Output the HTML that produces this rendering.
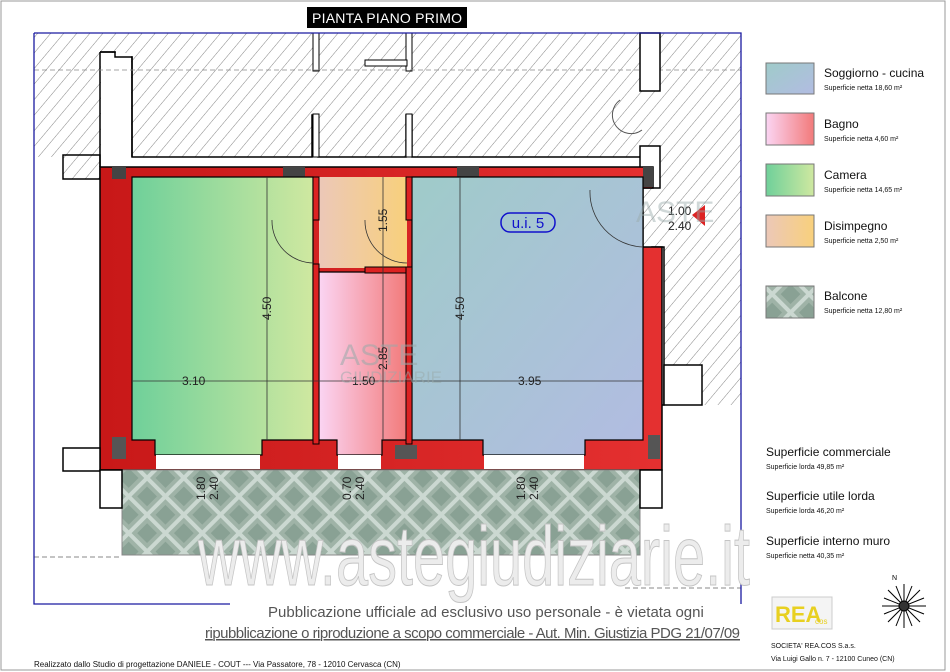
<!DOCTYPE html>
<html><head><meta charset="utf-8"><style>
html,body{margin:0;padding:0;background:#fff;width:950px;height:672px;overflow:hidden}
svg{display:block}
.t{font-family:"Liberation Sans",sans-serif}
</style></head><body>
<svg width="950" height="672" viewBox="0 0 950 672" xmlns="http://www.w3.org/2000/svg">
<defs>
<pattern id="h" width="10" height="10" patternUnits="userSpaceOnUse" patternTransform="rotate(40)">
<rect width="10" height="10" fill="#fff"/><line x1="0" y1="0" x2="0" y2="10" stroke="#666" stroke-width="0.8"/></pattern>
<pattern id="d" width="26" height="26" patternUnits="userSpaceOnUse" patternTransform="rotate(45)">
<rect width="26" height="26" fill="#cbd8d1"/><rect x="2" y="2" width="22" height="22" fill="#9fb3a7"/><rect x="6" y="6" width="14" height="14" fill="#89a194"/></pattern>
<linearGradient id="gc" x1="0" x2="1"><stop offset="0" stop-color="#6fd09a"/><stop offset="1" stop-color="#cfe8a0"/></linearGradient>
<linearGradient id="gb" x1="0" x2="1"><stop offset="0" stop-color="#fbd5f3"/><stop offset="1" stop-color="#f27a7a"/></linearGradient>
<linearGradient id="gd" x1="0" x2="1"><stop offset="0" stop-color="#ecc8b8"/><stop offset="1" stop-color="#f8d07c"/></linearGradient>
<linearGradient id="gs" x1="0" y1="0" x2="1" y2="1"><stop offset="0" stop-color="#9fcbc9"/><stop offset="1" stop-color="#b2bce2"/></linearGradient>
<linearGradient id="gr" x1="0" x2="1"><stop offset="0" stop-color="#c81818"/><stop offset="1" stop-color="#e43030"/></linearGradient>
</defs>
<rect x="1" y="1" width="944" height="669" fill="none" stroke="#999"/>
<rect x="34" y="33" width="707" height="124" fill="url(#h)"/>
<rect x="640" y="157" width="101" height="248" fill="url(#h)"/>
<rect x="63" y="155" width="37" height="24" fill="url(#h)" stroke="#000" stroke-width="1.5"/>
<path d="M100 52 H115 V57 H132 V157 H312 V115 H318 V157 H406 V115 H412 V157 H640" fill="none" stroke="#000" stroke-width="1.5"/>
<rect x="101" y="53" width="30" height="112" fill="#fff"/>
<path d="M100 52 H115 V57 H132 V157" fill="none" stroke="#000" stroke-width="1.5"/>
<line x1="100" y1="52" x2="100" y2="167" stroke="#000" stroke-width="1.5"/>
<rect x="313" y="33" width="6" height="38" fill="#fff" stroke="#000"/>
<rect x="406" y="33" width="6" height="38" fill="#fff" stroke="#000"/>
<rect x="365" y="60" width="42" height="6" fill="#fff" stroke="#000"/>
<rect x="313" y="114" width="6" height="43" fill="#fff" stroke="#000"/>
<rect x="406" y="114" width="6" height="43" fill="#fff" stroke="#000"/>
<line x1="34" y1="70" x2="741" y2="70" stroke="#888" stroke-dasharray="5,3" stroke-width="0.7"/>
<rect x="640" y="33" width="20" height="58" fill="#fff" stroke="#000" stroke-width="1.5"/>
<rect x="640" y="146" width="20" height="42" fill="#fff" stroke="#000" stroke-width="1.5"/>
<rect x="652" y="247" width="12" height="158" fill="#fff" stroke="#000" stroke-width="1.5"/>
<rect x="664" y="365" width="38" height="40" fill="#fff" stroke="#000" stroke-width="1.5"/>
<path d="M620 100 a18 18 0 0 0 22 30" fill="none" stroke="#555"/>
<path d="M100 167 H653 V188 H643 V247 H662 V470 H100 Z" fill="url(#gr)" stroke="#000" stroke-width="1.5"/>
<rect x="112" y="167" width="14" height="12" fill="#444"/>
<rect x="283" y="167" width="22" height="10" fill="#444"/>
<rect x="457" y="167" width="22" height="10" fill="#444"/>
<rect x="643" y="167" width="10" height="20" fill="#444"/>
<path d="M132 177 H313 V440 H262 V455 H155 V440 H132 Z" fill="url(#gc)" stroke="#000" stroke-width="1.2"/>
<rect x="319" y="177" width="88" height="91" fill="url(#gd)"/>
<path d="M319 272 H407 V440 H382 V455 H337 V440 H319 Z" fill="url(#gb)" stroke="#000" stroke-width="1.2"/>
<path d="M412 177 H643 V440 H585 V455 H483 V440 H412 Z" fill="url(#gs)" stroke="#000" stroke-width="1.2"/>
<rect x="313" y="177" width="6" height="43" fill="#d22" stroke="#000"/>
<rect x="406" y="177" width="6" height="43" fill="#d22" stroke="#000"/>
<rect x="313" y="264" width="6" height="180" fill="#d22" stroke="#000"/>
<rect x="365" y="267" width="47" height="6" fill="#d22" stroke="#000"/>
<rect x="406" y="267" width="6" height="177" fill="#d22" stroke="#000"/>
<rect x="156" y="455" width="104" height="14" fill="#fff"/>
<rect x="338" y="455" width="43" height="14" fill="#fff"/>
<rect x="484" y="455" width="100" height="14" fill="#fff"/>
<rect x="112" y="437" width="14" height="22" fill="#555"/>
<rect x="395" y="445" width="22" height="14" fill="#555"/>
<rect x="648" y="435" width="12" height="24" fill="#555"/>
<path d="M272 220 a42 42 0 0 0 42 43" fill="none" stroke="#333" stroke-width="0.8"/>
<path d="M365 220 a42 42 0 0 0 42 43" fill="none" stroke="#333" stroke-width="0.8"/>
<path d="M590 190 a55 55 0 0 0 53 57" fill="none" stroke="#333" stroke-width="0.8"/>
<rect x="122" y="470" width="518" height="85" fill="url(#d)" stroke="#888"/>
<rect x="63" y="448" width="37" height="23" fill="#fff" stroke="#000" stroke-width="1.5"/>
<rect x="100" y="470" width="22" height="38" fill="#fff" stroke="#000" stroke-width="1.5"/>
<rect x="640" y="470" width="22" height="38" fill="#fff" stroke="#000" stroke-width="1.5"/>
<line x1="34" y1="557" x2="122" y2="557" stroke="#888" stroke-dasharray="5,3"/>
<line x1="625" y1="588" x2="741" y2="588" stroke="#888" stroke-dasharray="5,3"/>
<g stroke="#333" stroke-width="0.8">
<line x1="267" y1="177" x2="267" y2="440"/><line x1="460" y1="177" x2="460" y2="440"/>
<line x1="132" y1="381" x2="643" y2="381"/><line x1="383" y1="177" x2="383" y2="440"/>
</g>
<g class="t" font-size="12" fill="#222">
<text x="182" y="385">3.10</text>
<text x="352" y="385">1.50</text>
<text x="518" y="385">3.95</text>
<text transform="translate(271,320) rotate(-90)">4.50</text>
<text transform="translate(464,320) rotate(-90)">4.50</text>
<text transform="translate(387,232) rotate(-90)">1.55</text>
<text transform="translate(387,370) rotate(-90)">2.85</text>
<text transform="translate(205,500) rotate(-90)">1.80</text>
<text transform="translate(218,500) rotate(-90)">2.40</text>
<text transform="translate(351,500) rotate(-90)">0.70</text>
<text transform="translate(364,500) rotate(-90)">2.40</text>
<text transform="translate(525,500) rotate(-90)">1.80</text>
<text transform="translate(538,500) rotate(-90)">2.40</text>
<text x="668" y="215">1.00</text><text x="668" y="230">2.40</text>
</g>
<path d="M705 205 L692 215 L705 226 Z" fill="#d22"/>
<rect x="501" y="213" width="54" height="19" rx="9" fill="none" stroke="#11c" stroke-width="1.5"/>
<text x="528" y="228" class="t" font-size="15" fill="#11c" text-anchor="middle">u.i. 5</text>
<text x="340" y="365" class="t" font-size="30" fill="#9aa" opacity="0.55">ASTE</text>
<text x="340" y="383" class="t" font-size="17" fill="#9aa" opacity="0.5">GIUDIZIARIE</text>
<text x="636" y="222" class="t" font-size="30" fill="#9aa" opacity="0.45">ASTE</text>
<path d="M34 33 H741 V604 M34 33 V604 H230" fill="none" stroke="#1a1aa0" stroke-width="1.3"/>
<rect x="307" y="7" width="160" height="21" fill="#000"/>
<text x="387" y="23" class="t" font-size="14" fill="#fff" text-anchor="middle" textLength="150">PIANTA PIANO PRIMO</text>
<text x="198" y="585" class="t" font-size="84" fill="#ececec" stroke="#c4c4c4" stroke-width="1" textLength="552" lengthAdjust="spacingAndGlyphs">www.astegiudiziarie.it</text>
<text x="268" y="617" class="t" font-size="15" fill="#555">Pubblicazione ufficiale ad esclusivo uso personale - è vietata ogni</text>
<text x="205" y="638" class="t" font-size="15" fill="#555" text-decoration="underline" textLength="535">ripubblicazione o riproduzione a scopo commerciale - Aut. Min. Giustizia PDG 21/07/09</text>
<text x="34" y="667" class="t" font-size="8" fill="#111">Realizzato dallo Studio di progettazione DANIELE - COUT  --- Via Passatore, 78 - 12010 Cervasca (CN)</text>
<g stroke="#777">
<rect x="766" y="63" width="48" height="31" fill="url(#gs)"/>
<rect x="766" y="113" width="48" height="32" fill="url(#gb)"/>
<rect x="766" y="164" width="48" height="32" fill="url(#gc)"/>
<rect x="766" y="215" width="48" height="32" fill="url(#gd)"/>
<rect x="766" y="286" width="48" height="32" fill="url(#d)"/>
</g>
<g class="t" fill="#111">
<text x="824" y="77" font-size="12">Soggiorno - cucina</text><text x="824" y="90" font-size="7">Superficie netta 18,60 m²</text>
<text x="824" y="128" font-size="12">Bagno</text><text x="824" y="141" font-size="7">Superficie netta 4,60 m²</text>
<text x="824" y="179" font-size="12">Camera</text><text x="824" y="192" font-size="7">Superficie netta 14,65 m²</text>
<text x="824" y="230" font-size="12">Disimpegno</text><text x="824" y="243" font-size="7">Superficie netta 2,50 m²</text>
<text x="824" y="300" font-size="12">Balcone</text><text x="824" y="313" font-size="7">Superficie netta 12,80 m²</text>
<text x="766" y="456" font-size="12">Superficie commerciale</text><text x="766" y="469" font-size="7">Superficie lorda 49,85 m²</text>
<text x="766" y="500" font-size="12">Superficie utile lorda</text><text x="766" y="513" font-size="7">Superficie lorda 46,20 m²</text>
<text x="766" y="545" font-size="12">Superficie interno muro</text><text x="766" y="558" font-size="7">Superficie netta 40,35 m²</text>
<text x="771" y="648" font-size="7">SOCIETA' REA.COS S.a.s.</text>
<text x="771" y="661" font-size="7">Via Luigi Gallo n. 7 - 12100 Cuneo (CN)</text>
</g>
<rect x="772" y="597" width="60" height="32" fill="#f4f4f4" stroke="#ccc"/>
<text x="775" y="622" class="t" font-size="22" font-weight="bold" fill="#e8d020">REA</text>
<text x="815" y="624" class="t" font-size="8" fill="#e8d020">cos</text>
<g stroke="#000" stroke-width="1" transform="translate(904,606)">
<line x1="-22" y1="0" x2="22" y2="0"/><line x1="0" y1="-22" x2="0" y2="22"/>
<line x1="-16" y1="-16" x2="16" y2="16"/><line x1="-16" y1="16" x2="16" y2="-16"/>
<line x1="-8" y1="-20" x2="8" y2="20"/><line x1="8" y1="-20" x2="-8" y2="20"/>
<line x1="-20" y1="-8" x2="20" y2="8"/><line x1="-20" y1="8" x2="20" y2="-8"/>
<circle r="5" fill="#333"/></g>
<text x="892" y="580" class="t" font-size="7">N</text>
</svg>
</body></html>
